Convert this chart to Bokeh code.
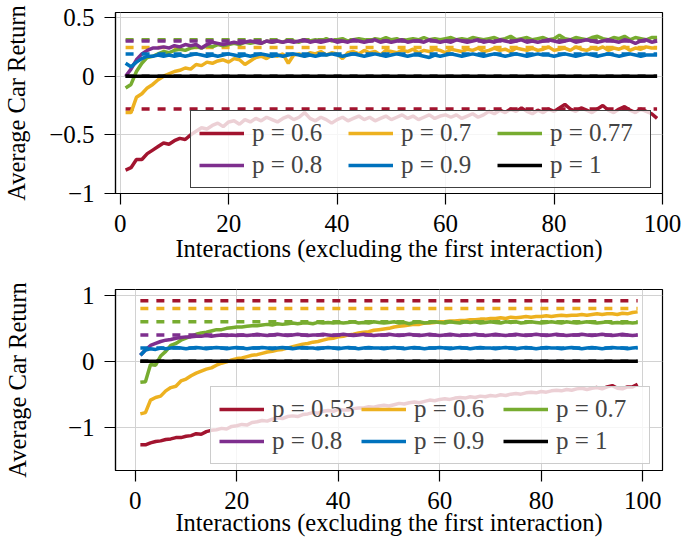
from bokeh.plotting import figure
from bokeh.models import Legend, LegendItem, FixedTicker, Range1d, CustomJSTickFormatter
from bokeh.layouts import column
from bokeh.embed import file_html
from bokeh.resources import INLINE

interactions = list(range(1, 100))
x_ticks = [0, 20, 40, 60, 80, 100]
colors = ["#A2142F", "#EDB120", "#77AC30", "#7E2F8E", "#0072BD", "#000000"]

# ---------------- top panel ----------------
top_labels = ["p = 0.6", "p = 0.7", "p = 0.77", "p = 0.8", "p = 0.9", "p = 1"]
top_y_ticks = [-1, -0.5, 0, 0.5]
top_red = [-0.80, -0.78, -0.71, -0.71, -0.66, -0.63, -0.60, -0.57, -0.58, -0.55,
           -0.53, -0.54, -0.50, -0.47, -0.44, -0.45, -0.42, -0.40, -0.43, -0.39,
           -0.38, -0.41, -0.37, -0.39, -0.36, -0.38, -0.35, -0.37, -0.39, -0.36,
           -0.34, -0.37, -0.35, -0.31, -0.36, -0.38, -0.35, -0.37, -0.40, -0.37,
           -0.35, -0.38, -0.36, -0.34, -0.37, -0.35, -0.38, -0.36, -0.34, -0.37,
           -0.35, -0.33, -0.36, -0.34, -0.37, -0.35, -0.33, -0.36, -0.34, -0.33,
           -0.35, -0.33, -0.36, -0.34, -0.32, -0.35, -0.33, -0.30, -0.32, -0.29,
           -0.31, -0.28, -0.30, -0.27, -0.30, -0.32, -0.29, -0.31, -0.28, -0.30,
           -0.27, -0.24, -0.28, -0.30, -0.27, -0.29, -0.31, -0.28, -0.25, -0.29,
           -0.31, -0.28, -0.26, -0.29, -0.31, -0.28, -0.30, -0.32, -0.36]
top_yellow = [-0.31, -0.31, -0.18, -0.15, -0.10, -0.07, -0.03, 0.00, 0.02, 0.04,
              0.05, 0.07, 0.06, 0.10, 0.09, 0.12, 0.11, 0.13, 0.14, 0.12,
              0.15, 0.14, 0.10, 0.13, 0.16, 0.17, 0.15, 0.18, 0.17, 0.19,
              0.11, 0.18, 0.19, 0.17, 0.20, 0.19, 0.21, 0.18, 0.20, 0.19,
              0.15, 0.20, 0.21, 0.19, 0.22, 0.20, 0.21, 0.18, 0.22, 0.21,
              0.20, 0.22, 0.21, 0.23, 0.20, 0.22, 0.21, 0.23, 0.22, 0.20,
              0.23, 0.22, 0.21, 0.23, 0.22, 0.24, 0.21, 0.22, 0.24, 0.22,
              0.23, 0.21, 0.24, 0.23, 0.22, 0.24, 0.22, 0.23, 0.25, 0.22,
              0.23, 0.24, 0.22, 0.25, 0.23, 0.22, 0.24, 0.23, 0.25, 0.22,
              0.24, 0.23, 0.25, 0.22, 0.24, 0.23, 0.25, 0.24, 0.24]
top_green = [-0.10, -0.07, 0.04, 0.11, 0.16, 0.17, 0.19, 0.21, 0.20, 0.22,
             0.23, 0.22, 0.24, 0.25, 0.24, 0.26, 0.25, 0.27, 0.26, 0.27,
             0.28, 0.27, 0.29, 0.28, 0.29, 0.28, 0.30, 0.29, 0.30, 0.29,
             0.31, 0.30, 0.29, 0.31, 0.30, 0.31, 0.30, 0.32, 0.30, 0.31,
             0.32, 0.30, 0.31, 0.32, 0.31, 0.30, 0.32, 0.31, 0.33, 0.31,
             0.32, 0.30, 0.31, 0.32, 0.31, 0.33, 0.31, 0.32, 0.31, 0.32,
             0.33, 0.31, 0.32, 0.31, 0.33, 0.32, 0.31, 0.32, 0.33, 0.31,
             0.32, 0.34, 0.31, 0.32, 0.33, 0.31, 0.32, 0.33, 0.31, 0.32,
             0.35, 0.32, 0.31, 0.33, 0.32, 0.31, 0.33, 0.34, 0.32, 0.31,
             0.33, 0.32, 0.34, 0.31, 0.33, 0.32, 0.31, 0.33, 0.33]
top_purple = [0.00, 0.06, 0.14, 0.19, 0.22, 0.24, 0.24, 0.25, 0.24, 0.26,
              0.25, 0.27, 0.26, 0.27, 0.24, 0.27, 0.29, 0.28, 0.27, 0.28,
              0.29, 0.28, 0.29, 0.30, 0.29, 0.28, 0.30, 0.29, 0.30, 0.29,
              0.30, 0.29, 0.30, 0.31, 0.29, 0.30, 0.29, 0.30, 0.31, 0.29,
              0.30, 0.29, 0.31, 0.30, 0.29, 0.30, 0.31, 0.29, 0.30, 0.29,
              0.30, 0.31, 0.29, 0.30, 0.30, 0.29, 0.31, 0.30, 0.29, 0.30,
              0.29, 0.31, 0.30, 0.29, 0.30, 0.31, 0.29, 0.30, 0.29, 0.31,
              0.30, 0.29, 0.30, 0.31, 0.29, 0.30, 0.29, 0.30, 0.31, 0.30,
              0.29, 0.30, 0.31, 0.29, 0.30, 0.31, 0.30, 0.29, 0.30, 0.31,
              0.30, 0.29, 0.31, 0.30, 0.28, 0.30, 0.31, 0.29, 0.30]
top_blue = [0.11, 0.08, 0.12, 0.15, 0.17, 0.17, 0.18, 0.17, 0.18, 0.17,
            0.18, 0.17, 0.18, 0.19, 0.18, 0.17, 0.18, 0.17, 0.18, 0.19,
            0.18, 0.17, 0.18, 0.17, 0.18, 0.19, 0.18, 0.17, 0.18, 0.17,
            0.18, 0.19, 0.18, 0.17, 0.18, 0.17, 0.18, 0.18, 0.19, 0.18,
            0.17, 0.18, 0.19, 0.18, 0.17, 0.18, 0.19, 0.18, 0.17, 0.18,
            0.19, 0.18, 0.17, 0.18, 0.18, 0.17, 0.16, 0.18, 0.17, 0.18,
            0.19, 0.18, 0.17, 0.18, 0.19, 0.18, 0.17, 0.18, 0.19, 0.18,
            0.17, 0.18, 0.19, 0.18, 0.17, 0.18, 0.19, 0.18, 0.18, 0.17,
            0.18, 0.19, 0.18, 0.17, 0.18, 0.19, 0.18, 0.17, 0.18, 0.19,
            0.18, 0.17, 0.18, 0.19, 0.18, 0.17, 0.18, 0.18, 0.18]
top_black = [0.0] * 99
top_dashed = [-0.28, 0.245, 0.31, 0.30, 0.19, 0.0]

# ---------------- bottom panel ----------------
bottom_labels = ["p = 0.53", "p = 0.6", "p = 0.7", "p = 0.8", "p = 0.9", "p = 1"]
bottom_y_ticks = [-1, 0, 1]
bottom_red = [-1.27, -1.27, -1.24, -1.22, -1.21, -1.19, -1.18, -1.16, -1.16, -1.14,
              -1.13, -1.10, -1.11, -1.07, -1.05, -1.04, -1.02, -1.03, -0.99, -0.98,
              -0.96, -0.97, -0.93, -0.92, -0.90, -0.91, -0.88, -0.86, -0.87, -0.84,
              -0.83, -0.84, -0.81, -0.80, -0.78, -0.79, -0.76, -0.75, -0.76, -0.73,
              -0.74, -0.74, -0.72, -0.71, -0.71, -0.69, -0.70, -0.68, -0.67, -0.68,
              -0.66, -0.64, -0.65, -0.63, -0.62, -0.63, -0.61, -0.59, -0.60, -0.58,
              -0.57, -0.58, -0.56, -0.55, -0.56, -0.54, -0.55, -0.53, -0.54, -0.52,
              -0.53, -0.51, -0.52, -0.50, -0.49, -0.50, -0.48, -0.47, -0.48, -0.46,
              -0.47, -0.45, -0.44, -0.45, -0.43, -0.44, -0.42, -0.41, -0.43, -0.41,
              -0.40, -0.42, -0.39, -0.37, -0.41, -0.42, -0.39, -0.39, -0.35]
bottom_yellow = [-0.80, -0.78, -0.59, -0.55, -0.53, -0.45, -0.40, -0.38, -0.30, -0.27,
                 -0.22, -0.18, -0.15, -0.12, -0.10, -0.06, -0.03, -0.01, 0.02, 0.04,
                 0.05, 0.07, 0.09, 0.10, 0.12, 0.14, 0.15, 0.17, 0.18, 0.20,
                 0.22, 0.24, 0.26, 0.27, 0.29, 0.30, 0.32, 0.34, 0.35, 0.37,
                 0.38, 0.40, 0.41, 0.43, 0.44, 0.45, 0.47, 0.48, 0.49, 0.50,
                 0.52, 0.53, 0.54, 0.55, 0.56, 0.56, 0.58, 0.58, 0.59, 0.60,
                 0.60, 0.61, 0.61, 0.62, 0.62, 0.63, 0.63, 0.64, 0.64, 0.65,
                 0.65, 0.66, 0.65, 0.67, 0.66, 0.67, 0.68, 0.67, 0.68, 0.68,
                 0.69, 0.68, 0.69, 0.70, 0.69, 0.70, 0.70, 0.71, 0.70, 0.71,
                 0.72, 0.71, 0.72, 0.72, 0.71, 0.73, 0.72, 0.74, 0.75]
bottom_green = [-0.32, -0.31, -0.05, -0.06, 0.08, 0.15, 0.24, 0.27, 0.32, 0.35,
                0.38, 0.41, 0.43, 0.44, 0.46, 0.48, 0.48, 0.50, 0.51, 0.52,
                0.52, 0.53, 0.54, 0.54, 0.55, 0.56, 0.55, 0.57, 0.56, 0.57,
                0.58, 0.57, 0.58, 0.58, 0.57, 0.59, 0.58, 0.59, 0.58, 0.59,
                0.58, 0.59, 0.60, 0.58, 0.59, 0.58, 0.60, 0.59, 0.58, 0.59,
                0.60, 0.58, 0.59, 0.57, 0.59, 0.60, 0.58, 0.59, 0.60, 0.59,
                0.58, 0.60, 0.59, 0.58, 0.60, 0.59, 0.60, 0.58, 0.59, 0.60,
                0.59, 0.58, 0.60, 0.59, 0.60, 0.58, 0.59, 0.60, 0.59, 0.58,
                0.59, 0.60, 0.59, 0.58, 0.60, 0.59, 0.58, 0.59, 0.60, 0.59,
                0.58, 0.59, 0.60, 0.58, 0.59, 0.58, 0.59, 0.58, 0.59]
bottom_purple = [0.09, 0.17, 0.24, 0.27, 0.30, 0.32, 0.33, 0.35, 0.36, 0.37,
                 0.37, 0.38, 0.38, 0.39, 0.38, 0.39, 0.40, 0.39, 0.40, 0.39,
                 0.40, 0.39, 0.40, 0.41, 0.40, 0.39, 0.40, 0.41, 0.40, 0.39,
                 0.40, 0.41, 0.40, 0.39, 0.40, 0.40, 0.41, 0.40, 0.39, 0.40,
                 0.41, 0.40, 0.39, 0.40, 0.41, 0.40, 0.39, 0.40, 0.40, 0.41,
                 0.40, 0.39, 0.40, 0.41, 0.40, 0.39, 0.40, 0.41, 0.40, 0.39,
                 0.40, 0.41, 0.40, 0.39, 0.40, 0.40, 0.41, 0.40, 0.39, 0.40,
                 0.41, 0.40, 0.39, 0.40, 0.41, 0.40, 0.39, 0.40, 0.41, 0.40,
                 0.39, 0.40, 0.41, 0.40, 0.39, 0.40, 0.40, 0.41, 0.40, 0.39,
                 0.40, 0.41, 0.40, 0.39, 0.40, 0.41, 0.40, 0.39, 0.40]
bottom_blue = [0.09, 0.17, 0.19, 0.18, 0.20, 0.19, 0.20, 0.21, 0.20, 0.19,
               0.20, 0.21, 0.20, 0.19, 0.20, 0.21, 0.20, 0.19, 0.20, 0.21,
               0.20, 0.19, 0.20, 0.20, 0.21, 0.20, 0.19, 0.20, 0.21, 0.20,
               0.19, 0.20, 0.21, 0.20, 0.20, 0.19, 0.20, 0.21, 0.20, 0.19,
               0.20, 0.21, 0.20, 0.19, 0.20, 0.21, 0.20, 0.20, 0.19, 0.20,
               0.21, 0.20, 0.19, 0.20, 0.21, 0.20, 0.19, 0.20, 0.20, 0.21,
               0.20, 0.19, 0.20, 0.21, 0.20, 0.19, 0.20, 0.21, 0.20, 0.20,
               0.19, 0.20, 0.21, 0.20, 0.19, 0.20, 0.21, 0.20, 0.19, 0.20,
               0.21, 0.20, 0.20, 0.19, 0.20, 0.21, 0.20, 0.19, 0.20, 0.21,
               0.20, 0.19, 0.20, 0.21, 0.20, 0.20, 0.19, 0.20, 0.21]
bottom_black = [0.0] * 99
bottom_dashed = [0.92, 0.80, 0.60, 0.40, 0.20, 0.0]

FONT = "Liberation Serif"

minus_fmt = CustomJSTickFormatter(code="""
return tick < 0 ? '\\u2212' + String(Math.abs(tick)) : String(tick);
""")


def make_panel(series, dashed, labels, xr, yr, yticks, height, top_border, bottom_border,
               ylabel_standoff, xlabel_standoff, legend_loc, legend_label_w, legend_border):
    p = figure(width=682, height=height, output_backend="svg", toolbar_location=None,
               x_range=Range1d(*xr), y_range=Range1d(*yr),
               min_border_left=112, min_border_right=20,
               min_border_top=top_border, min_border_bottom=bottom_border)
    p.background_fill_color = "white"
    p.border_fill_color = "white"
    p.outline_line_color = "black"
    p.outline_line_width = 1.2
    p.outline_line_alpha = 1.0

    p.xaxis.ticker = FixedTicker(ticks=x_ticks)
    p.yaxis.ticker = FixedTicker(ticks=yticks)
    p.yaxis.formatter = minus_fmt
    p.xaxis.axis_label = "Interactions (excluding the first interaction)"
    p.yaxis.axis_label = "Average Car Return"
    for ax in (p.xaxis[0], p.yaxis[0]):
        ax.major_tick_out = 11
        ax.major_tick_in = 0
        ax.minor_tick_out = 0
        ax.minor_tick_in = 0
        ax.axis_line_color = "black"
        ax.axis_line_width = 1.2
        ax.major_tick_line_color = "black"
        ax.major_tick_line_width = 1.2
        ax.major_label_text_font = FONT
        ax.major_label_text_font_size = "25px"
        ax.major_label_text_color = "black"
        ax.axis_label_text_font = FONT
        ax.axis_label_text_font_size = "24.5px"
        ax.axis_label_text_font_style = "normal"
        ax.axis_label_text_color = "black"
    p.xaxis.major_label_standoff = 10
    p.xaxis.axis_label_standoff = xlabel_standoff
    p.yaxis.major_label_standoff = 10
    p.yaxis.axis_label_standoff = ylabel_standoff
    p.grid.grid_line_color = "#d2d2d2"
    p.grid.grid_line_width = 1

    items = []
    for ys, dv, lab, col in zip(series, dashed, labels, colors):
        r = p.line(interactions, ys, line_color=col, line_width=3.5)
        p.line([interactions[0], interactions[-1]], [dv, dv], line_color=col,
               line_width=3.5, line_dash="8 8")
        items.append(LegendItem(label=lab, renderers=[r]))

    leg = Legend(items=items, location=legend_loc, orientation="horizontal", ncols=3,
                 glyph_width=45, glyph_height=24, label_height=24,
                 label_width=legend_label_w, label_standoff=8, spacing=4, padding=8, margin=0,
                 label_text_font=FONT, label_text_font_size="25px",
                 background_fill_color="white", background_fill_alpha=0.8,
                 border_line_color=legend_border, border_line_width=1.2, border_line_alpha=1.0)
    p.add_layout(leg)
    return p


top = make_panel([top_red, top_yellow, top_green, top_purple, top_blue, top_black],
                 top_dashed, top_labels, (-0.86, 100), (-1.0, 0.543), top_y_ticks,
                 271, 12, 78, 16, 0, (75, 5), 92, "#404040")
bottom = make_panel([bottom_red, bottom_yellow, bottom_green, bottom_purple, bottom_blue, bottom_black],
                    bottom_dashed, bottom_labels, (-3.9, 103.9), (-1.66, 1.09), bottom_y_ticks,
                    274, 18, 75, 34, -3, (95, 6), 85, "#cccccc")

layout = column(top, bottom, spacing=0)
open("out.html", "w").write(file_html(layout, INLINE))
